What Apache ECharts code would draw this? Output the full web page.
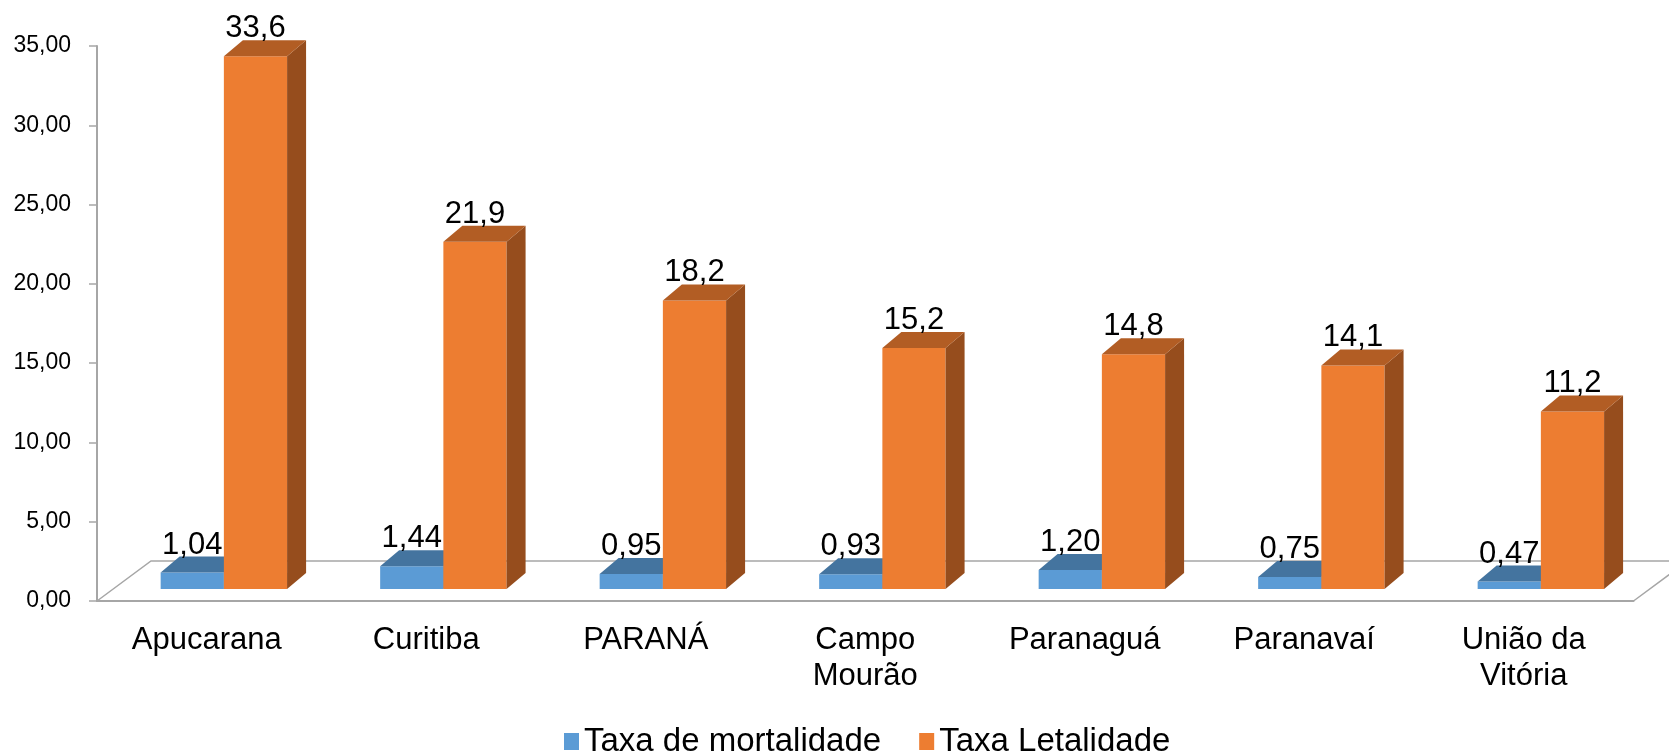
<!DOCTYPE html>
<html>
<head>
<meta charset="utf-8">
<script src="https://cdn.jsdelivr.net/npm/echarts@6/dist/echarts.min.js"></script>
<style>
html,body{margin:0;padding:0;background:#fff;}
#chart{width:1669px;height:753px;}
</style>
</head>
<body>
<div id="chart"></div>
<script>
// dados
var categorias = ['Apucarana', 'Curitiba', 'PARANÁ', 'Campo\nMourão', 'Paranaguá', 'Paranavaí', 'União da\nVitória'];
var taxaMortalidade = [1.04, 1.44, 0.95, 0.93, 1.20, 0.75, 0.47];
var taxaLetalidade = [33.6, 21.9, 18.2, 15.2, 14.8, 14.1, 11.2];
var yTicks = [0, 5, 10, 15, 20, 25, 30, 35];

var FONT = '"Liberation Sans", Arial, sans-serif';
var DX = 19, DY = -16, LIFT = 12;   // profundidade 3D das barras

function numBr(v, d){
    return v.toFixed(d).replace('.', ',');
}

// barra 3D (frente, topo, lado + rotulo)
function bar3d(cores, inicio, largura, casas){
    return function(params, api){
        var ci = api.value(0);
        var v = api.value(1);
        var base = api.coord([ci, 0]);
        var top = api.coord([ci, v]);
        var band = api.size([1, 0])[0];
        var x0 = base[0] - band / 2 + band * inicio;
        var w = band * largura;
        var yB = base[1] - LIFT;
        var yT = top[1] - LIFT;
        return {
            type: 'group',
            children: [
                {type: 'rect', shape: {x: x0, y: yT, width: w, height: yB - yT}, style: {fill: cores[0]}},
                {type: 'polygon', shape: {points: [[x0 + w, yT], [x0 + w + DX, yT + DY], [x0 + w + DX, yB + DY], [x0 + w, yB]]}, style: {fill: cores[2]}},
                {type: 'polygon', shape: {points: [[x0, yT], [x0 + w, yT], [x0 + w + DX, yT + DY], [x0 + DX, yT + DY]]}, style: {fill: cores[1]}},
                {type: 'text', style: {text: numBr(v, casas), x: x0 + w / 2, y: yT + DY + 4, align: 'center', verticalAlign: 'bottom', fill: '#000', font: '31px ' + FONT}}
            ]
        };
    };
}

var myChart = echarts.init(document.getElementById('chart'));
var option = {
    animation: false,
    backgroundColor: '#fff',
    textStyle: {fontFamily: FONT},
    grid: {left: 97, right: 35.5, top: 46, bottom: 152},
    legend: {
        left: 559, top: 720,
        icon: 'rect', itemWidth: 15, itemHeight: 17, itemGap: 38,
        textStyle: {fontSize: 33, color: '#000', fontFamily: FONT},
        data: ['Taxa de mortalidade', 'Taxa Letalidade']
    },
    xAxis: {
        type: 'category',
        data: categorias,
        axisLine: {lineStyle: {color: '#A6A6A6', width: 2}},
        axisTick: {length: 8, lineStyle: {color: '#A6A6A6', width: 1.5}},
        axisLabel: {interval: 0, fontSize: 31, lineHeight: 36, color: '#000', margin: 21, fontFamily: FONT}
    },
    yAxis: {
        type: 'value',
        min: 0, max: 35, interval: 5,
        splitLine: {show: false},
        axisLine: {show: true, lineStyle: {color: '#A6A6A6', width: 2}},
        axisTick: {show: true, length: 8, lineStyle: {color: '#A6A6A6', width: 1.5}},
        axisLabel: {fontSize: 23, color: '#000', margin: 26, fontFamily: FONT,
            formatter: function(v){ return yTicks.indexOf(v) >= 0 ? numBr(v, 2) : ''; }}
    },
    series: [
        {
            name: 'Taxa de mortalidade', type: 'custom',
            itemStyle: {color: '#5B9BD5'},
            renderItem: bar3d(['#5B9BD5', '#44749F', '#3F6E98'], 0.29, 0.288, 2),
            data: taxaMortalidade.map(function(v, i){ return [i, v]; }),
            z: 3
        },
        {
            name: 'Taxa Letalidade', type: 'custom',
            itemStyle: {color: '#ED7D31'},
            renderItem: bar3d(['#ED7D31', '#B25D24', '#964D1D'], 0.578, 0.288, 1),
            data: taxaLetalidade.map(function(v, i){ return [i, v]; }),
            z: 4
        }
    ]
};
myChart.setOption(option);

// piso 3D (linhas de fundo)
var y0 = myChart.convertToPixel({yAxisIndex: 0}, 0);
var xL = option.grid.left;
var xR = 1669 - option.grid.right;
var fx = 54, fy = -40;
myChart.setOption({
    graphic: [{
        type: 'polyline', z: 1, silent: true,
        shape: {points: [[xL, y0], [xL + fx, y0 + fy], [xR + fx, y0 + fy], [xR, y0]]},
        style: {stroke: '#A6A6A6', lineWidth: 1.5, fill: null}
    }]
});
</script>
</body>
</html>
